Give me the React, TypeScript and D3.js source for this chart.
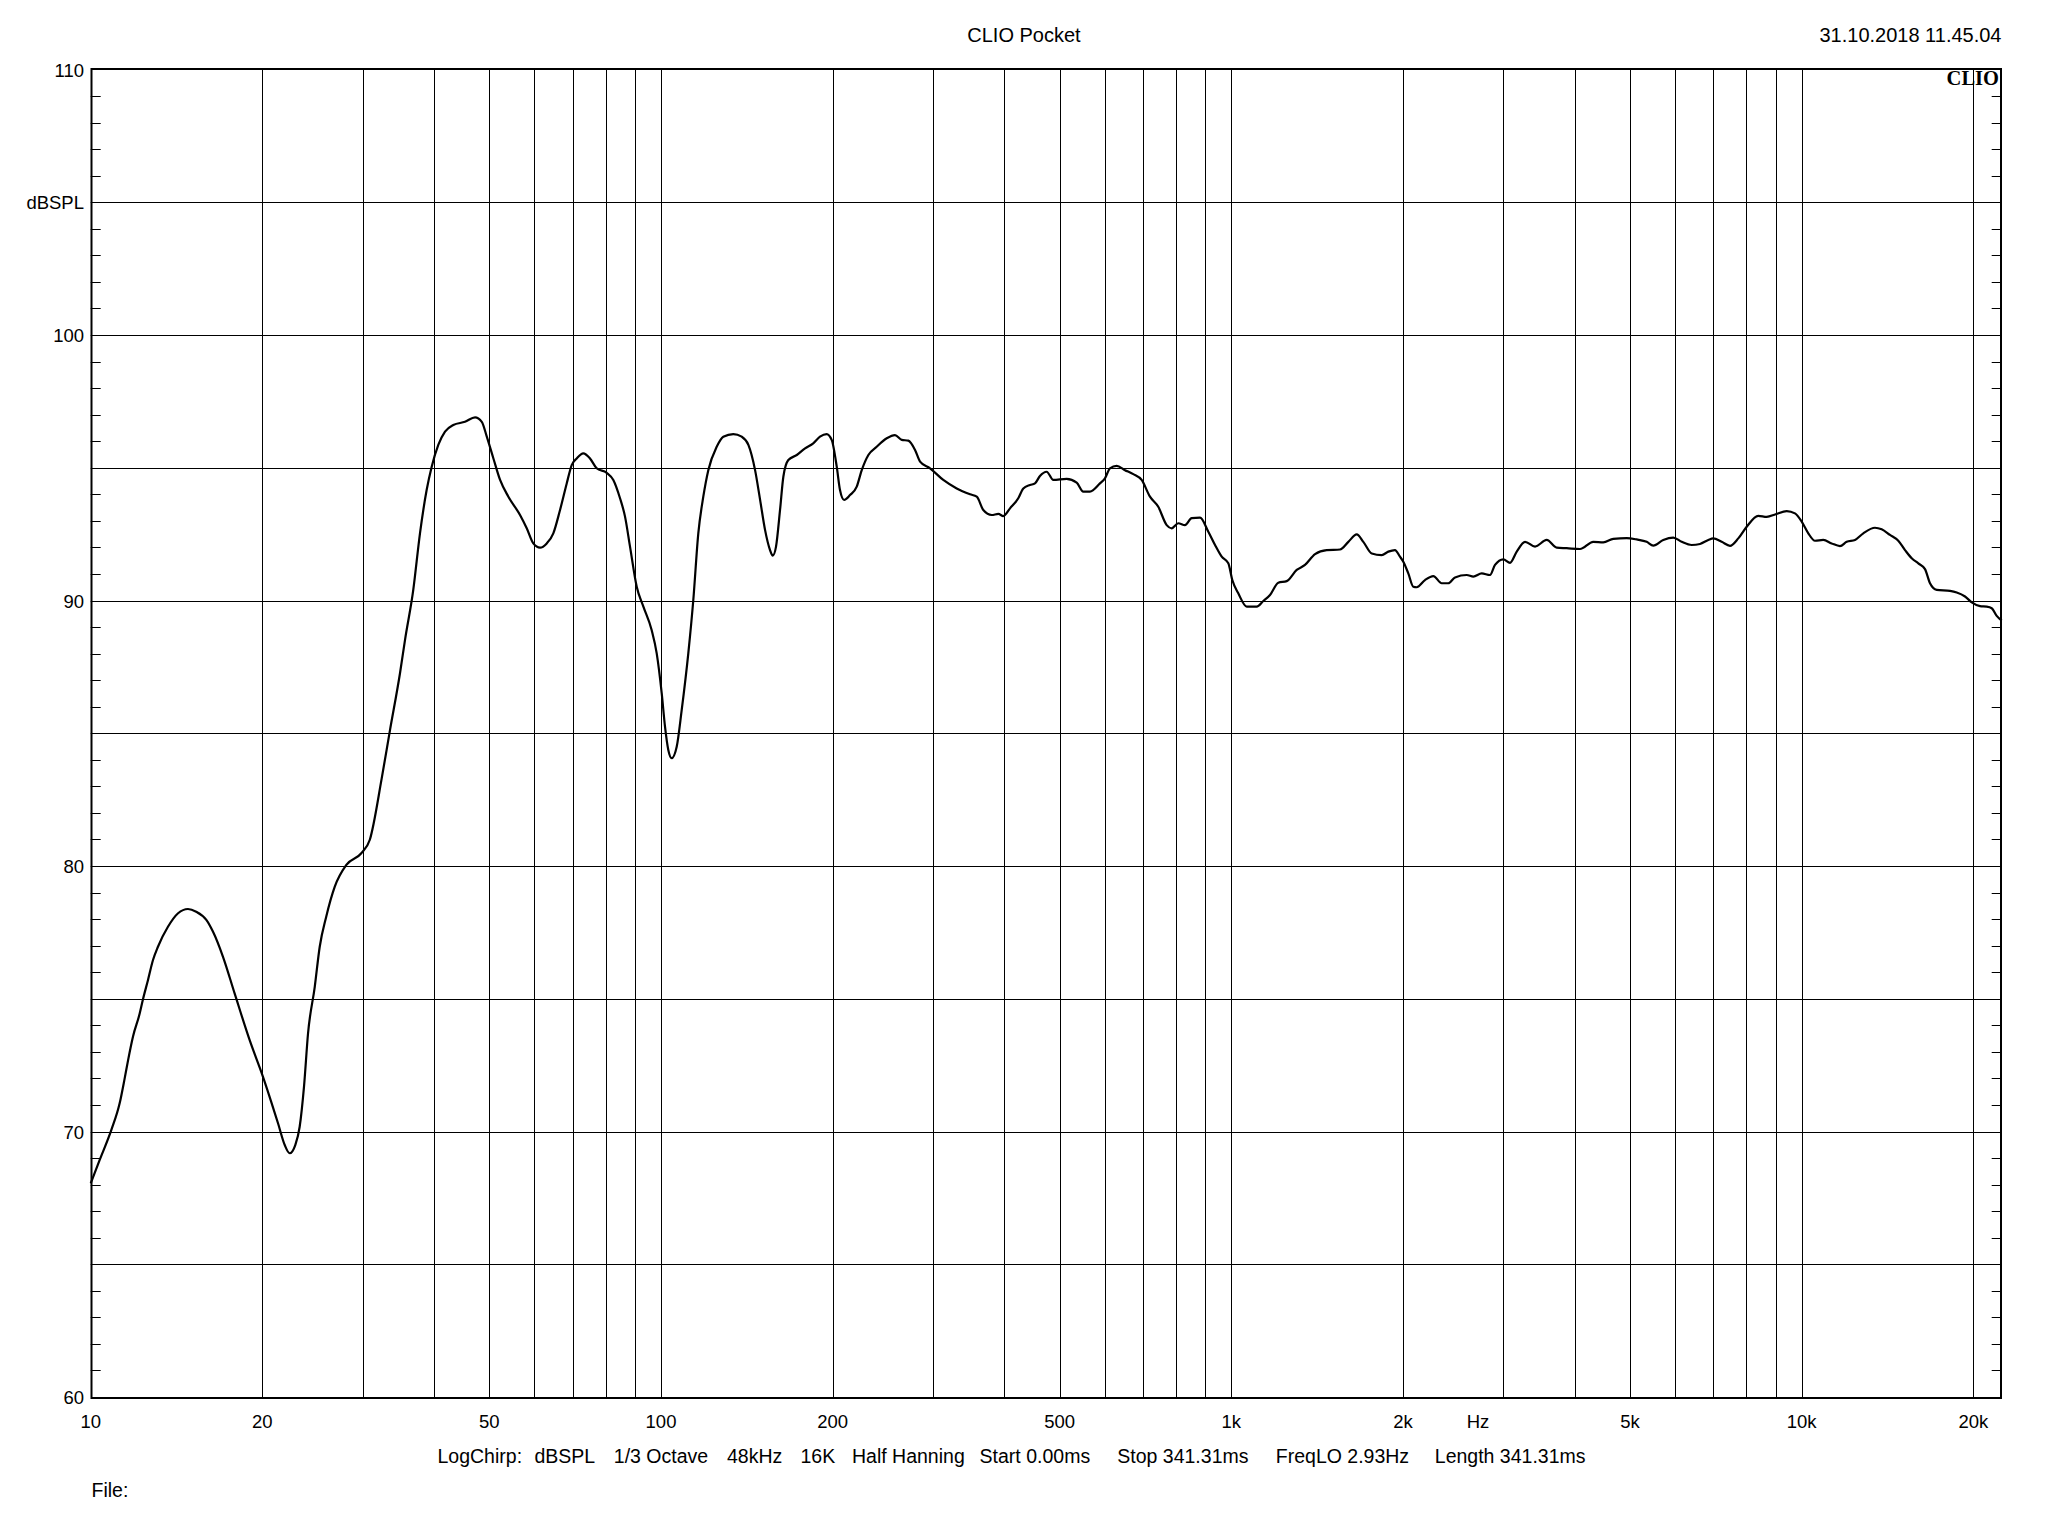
import React from "react";
import * as d3 from "d3";

// ---- data ----
const freqHz: number[] = [
  10, 10.37, 10.87, 11.24, 11.47, 11.63, 11.86, 12.19, 12.35, 12.6,
  12.86, 13.12, 13.66, 14.23, 14.81, 15.31, 15.95, 16.38, 17.06, 17.88,
  19.0, 20.05, 21.31, 21.89, 22.33, 22.84, 23.25, 23.66, 24.05, 24.71,
  25.21, 25.88, 26.79, 28.07, 29.82, 30.85,
  32.38, 33.48, 34.86, 35.57, 36.78, 37.79, 38.82, 39.62, 40.69, 41.81,
  43.23, 45.32, 47.2, 48.5, 49.49, 50.83, 52.22, 54.0, 56.6, 58.15,
  59.72, 61.36, 63.04, 64.74, 66.52, 68.34, 69.73, 71.15, 73.07, 75.08,
  77.13, 80.32, 82.49, 84.75, 86.48, 88.24, 90.66, 93.13, 96.29, 98.28,
  100.28, 101.63, 102.99, 104.41, 106.54, 108.72, 111.65, 113.93,
  116.25, 118.62, 121.04, 125.21, 128.6, 133.9, 138.5, 142.3, 146.2, 149.2,
  152.2, 155.3, 157.0, 159.1, 161.7, 163.9, 167.2, 173.0, 178.9, 184.9,
  190.0, 195.2, 199.2, 203.3, 206.0, 209.4, 214.5, 220.4, 224.9, 231.0,
  238.9, 248.8, 257.2, 264.3, 271.4, 278.9, 284.6, 296.3, 312.6, 330.0,
  348.3, 357.8, 367.4, 380.1, 390.4, 398.3, 409.2, 423.1,
  431.8, 443.6, 452.6, 461.8, 474.5, 487.3, 514.4, 535.6, 550.1, 565.1,
  588.4, 600.4, 612.6, 629.4, 650.9, 673.1, 696.3, 720.1, 744.6, 770.3,
  786.0, 807.3, 829.4, 852.2, 881.3, 911.4, 936.4, 962.0, 988.0, 1004,
  1028.6, 1064.1, 1108, 1137.9, 1169.1, 1208.9, 1250.6, 1302.1, 1346.5, 1402.2,
  1470, 1551, 1604, 1659.3, 1704, 1763, 1835, 1884.7, 1936.4, 1976,
  2002.6, 2043.4, 2085, 2113.9, 2185.9, 2260.5, 2338.4, 2401.6, 2467.5, 2586.8,
  2656.7, 2748.3, 2842, 2899.9, 2998.8, 3081.1, 3165.6, 3273.5, 3408.3, 3572.9,
  3720.2, 3873.5, 4086.9, 4312.4, 4490, 4675.1, 4935, 5138, 5350, 5494,
  5720, 5956, 6161, 6416, 6634, 6860,
  7000, 7242, 7489, 7744, 8011, 8395, 8685, 9006, 9415, 9736,
  10003, 10273, 10555, 10914, 11290, 11676, 11996, 12405, 12828, 13448,
  13816, 14287, 14774, 15180, 15597, 16018, 16457, 16793, 17254, 18206,
  18706, 19343, 19874, 20551, 21115, 21545, 21983, 22430,
];

const splDb: number[] = [
  68.05, 68.93, 70.06, 71.06, 72.0, 72.69, 73.57, 74.45, 74.98, 75.7,
  76.46, 76.96, 77.71, 78.22, 78.38, 78.28, 77.97, 77.53, 76.58, 75.2,
  73.44, 72.06, 70.3, 69.49, 69.18, 69.49, 70.18, 71.69, 73.7, 75.45,
  76.96, 78.09, 79.22, 80.04, 80.48, 80.98,
  83.3, 85.12, 87.26, 88.51, 90.4, 92.53, 94.16, 95.04, 95.86, 96.36,
  96.61, 96.73, 96.9, 96.73, 96.17, 95.35, 94.54, 93.91, 93.22, 92.72,
  92.15, 91.99, 92.15, 92.53, 93.41, 94.41, 95.1, 95.35, 95.54, 95.35,
  94.98, 94.81, 94.54, 93.85, 93.16, 92.03, 90.52, 89.77, 88.89, 88.01,
  86.51, 85.25, 84.37, 84.06, 84.49, 85.88, 88.01, 90.02,
  92.53, 93.91, 94.91, 95.79, 96.17, 96.27, 96.17, 95.86, 94.91, 93.79,
  92.66, 91.9, 91.69, 92.03, 93.41, 94.67, 95.29, 95.48, 95.73, 95.92,
  96.17, 96.27, 96.05, 95.04, 94.16, 93.79, 93.97, 94.29, 94.91, 95.48,
  95.79, 96.11, 96.23, 96.05, 96.02, 95.67, 95.23, 94.98, 94.54, 94.22,
  94.0, 93.91, 93.41, 93.22, 93.26, 93.18, 93.47, 93.85,
  94.22, 94.35, 94.41, 94.69, 94.85, 94.54, 94.58, 94.44, 94.1, 94.1,
  94.41, 94.6, 94.98, 95.07, 94.91, 94.76, 94.54, 93.91, 93.53, 92.84,
  92.72, 92.91, 92.84, 93.1, 93.12, 92.59, 92.09, 91.65, 91.4, 90.77,
  90.27, 89.77, 89.77, 89.98, 90.21, 90.67, 90.73, 91.15, 91.34, 91.75,
  91.9, 91.92, 92.21, 92.49, 92.21, 91.77, 91.71, 91.84, 91.9, 91.65,
  91.46, 91.02, 90.52, 90.5, 90.77, 90.92, 90.65, 90.65, 90.87, 90.96,
  90.9, 91.02, 90.96, 91.34, 91.55, 91.42, 91.84, 92.21, 92.03, 92.28,
  91.99, 91.97, 91.94, 92.21, 92.19, 92.32, 92.35, 92.3, 92.21, 92.07,
  92.28, 92.37, 92.21, 92.09, 92.13, 92.28,
  92.34, 92.21, 92.06, 92.34, 92.78, 93.19, 93.15, 93.25, 93.37, 93.28,
  92.97, 92.53, 92.25, 92.28, 92.15, 92.05, 92.21, 92.28, 92.53, 92.74,
  92.68, 92.47, 92.25, 91.9, 91.59, 91.4, 91.18, 90.65, 90.4, 90.36,
  90.3, 90.15, 89.93, 89.79, 89.77, 89.71, 89.42, 89.24,
];

const xGridHz: number[] = [
  20, 30, 40, 50, 60, 70, 80, 90, 100, 200, 300, 400, 500, 600, 700, 800, 900,
  1000, 2000, 3000, 4000, 5000, 6000, 7000, 8000, 9000, 10000, 20000,
];
const xTickHz: number[] = [10, 20, 50, 100, 200, 500, 1000, 2000, 5000, 10000, 20000];
const xTickLabels: string[] = ["10", "20", "50", "100", "200", "500", "1k", "2k", "5k", "10k", "20k"];
const yGridDb: number[] = [65, 70, 75, 80, 85, 90, 95, 100, 105];
const yTickDb: number[] = [60, 70, 80, 90, 100, 110];
const yUnitLabel = "dBSPL";
const xUnitLabel = "Hz";
const titleText = "CLIO Pocket";
const dateText = "31.10.2018 11.45.04";
const logoText = "CLIO";
const infoTokens: string[] = [
  "LogChirp:", "dBSPL", "1/3 Octave", "48kHz", "16K", "Half Hanning",
  "Start 0.00ms", "Stop 341.31ms", "FreqLO 2.93Hz", "Length 341.31ms",
];
const infoX: number[] = [437.5, 534.4, 613.8, 727, 800.5, 852, 979.6, 1117.3, 1275.8, 1434.8];
const fileText = "File:";

// ---- layout ----
const W = 2048;
const H = 1536;
const L = 90.7;
const R = 2001.7;
const T = 69.5;
const B = 1397;
const FONT = "'Liberation Sans', Arial, sans-serif";

export default function App() {
  const x = d3.scaleLog().domain([10, 22430]).range([L, R]);
  const y = d3.scaleLinear().domain([60, 110]).range([B, T]);

  const pts: [number, number][] = freqHz.map((f, i) => [f, splDb[i]]);
  const line = d3
    .line<[number, number]>()
    .x((d) => x(d[0]))
    .y((d) => y(d[1]))
    .curve(d3.curveMonotoneX);

  const snap = (v: number) => Math.round(v) + 0.5;
  const minorDb = d3.range(61, 110).filter((v) => v % 5 !== 0);

  return (
    <svg
      width={W}
      height={H}
      viewBox={`0 0 ${W} ${H}`}
      style={{ position: "absolute", left: 0, top: 0, display: "block", background: "#fff" }}
    >
      <rect x={0} y={0} width={W} height={H} fill="#fff" />
      {/* vertical grid */}
      {xGridHz.map((f) => (
        <line key={"vx" + f} x1={snap(x(f))} x2={snap(x(f))} y1={T} y2={B} stroke="#000" strokeWidth={1} />
      ))}
      {/* horizontal grid */}
      {yGridDb.map((v) => (
        <line key={"hy" + v} x1={L} x2={R} y1={snap(y(v))} y2={snap(y(v))} stroke="#000" strokeWidth={1} />
      ))}
      {/* minor ticks left and right */}
      {minorDb.map((v) => (
        <g key={"mt" + v}>
          <line x1={L} x2={L + 10} y1={snap(y(v))} y2={snap(y(v))} stroke="#000" strokeWidth={1} />
          <line x1={R - 10} x2={R} y1={snap(y(v))} y2={snap(y(v))} stroke="#000" strokeWidth={1} />
        </g>
      ))}
      {/* curve */}
      <path d={line(pts) || ""} fill="none" stroke="#000" strokeWidth={2.2} strokeLinejoin="round" />
      {/* frame */}
      <rect x={91.5} y={69} width={1909.5} height={1329} fill="none" stroke="#000" strokeWidth={2} />

      {/* logo */}
      <text
        x={1999}
        y={85}
        textAnchor="end"
        fontFamily="'Liberation Serif', 'DejaVu Serif', serif"
        fontWeight="bold"
        fontSize={20.5}
        fill="#000"
      >
        {logoText}
      </text>

      {/* y tick labels */}
      {yTickDb.map((v) => (
        <text key={"yl" + v} x={84} y={y(v) + 7} textAnchor="end" fontFamily={FONT} fontSize={18.5} fill="#000">
          {v}
        </text>
      ))}
      <text x={84} y={y(105) + 7} textAnchor="end" fontFamily={FONT} fontSize={18.5} fill="#000">
        {yUnitLabel}
      </text>

      {/* x tick labels */}
      {xTickHz.map((f, i) => (
        <text key={"xl" + f} x={x(f)} y={1428} textAnchor="middle" fontFamily={FONT} fontSize={18.5} fill="#000">
          {xTickLabels[i]}
        </text>
      ))}
      <text x={1478} y={1428} textAnchor="middle" fontFamily={FONT} fontSize={18.5} fill="#000">
        {xUnitLabel}
      </text>

      {/* title and date */}
      <text x={1024} y={41.5} textAnchor="middle" fontFamily={FONT} fontSize={20} fill="#000">
        {titleText}
      </text>
      <text x={2001.5} y={41.5} textAnchor="end" fontFamily={FONT} fontSize={20} fill="#000">
        {dateText}
      </text>

      {/* info line */}
      {infoTokens.map((t, i) => (
        <text key={"it" + i} x={infoX[i]} y={1463} fontFamily={FONT} fontSize={19.5} fill="#000">
          {t}
        </text>
      ))}
      <text x={91.5} y={1497} fontFamily={FONT} fontSize={19.5} fill="#000">
        {fileText}
      </text>
    </svg>
  );
}
